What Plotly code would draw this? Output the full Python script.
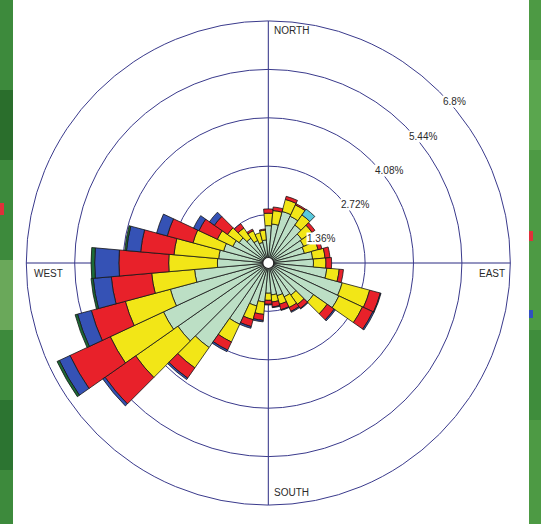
import plotly.graph_objects as go

# Wind directions (degrees, clockwise from north), 10-degree sectors
directions = list(range(0, 360, 10))

# Frequency (%) of each speed class per direction sector
calm_light = [1.05, 1.10, 1.50, 1.45, 1.30, 1.15, 1.10, 1.05, 1.25, 1.27,
              1.65, 2.15, 2.19, 1.55, 1.10, 1.05, 0.95, 0.90, 0.85, 1.10,
              1.25, 1.90, 2.90, 3.10, 3.25, 2.85, 2.08, 1.43, 1.40, 1.30,
              1.10, 1.00, 0.85, 0.70, 0.60, 0.65]
moderate = [0.35, 0.38, 0.35, 0.35, 0.35, 0.35, 0.30, 0.40, 0.35, 0.35,
            0.35, 0.80, 0.73, 0.47, 0.32, 0.33, 0.25, 0.20, 0.20, 0.35,
            0.40, 0.55, 0.70, 1.45, 1.65, 1.31, 1.21, 1.37, 1.26, 0.89,
            0.48, 0.40, 0.35, 0.30, 0.28, 0.28]
fresh = [0.12, 0.10, 0.09, 0.04, 0.00, 0.10, 0.08, 0.11, 0.14, 0.16,
         0.12, 0.31, 0.32, 0.24, 0.14, 0.12, 0.16, 0.14, 0.11, 0.17,
         0.20, 0.25, 0.35, 1.05, 1.25, 0.99, 1.14, 1.40, 0.94, 0.75,
         0.57, 0.45, 0.15, 0.05, 0.00, 0.03]
strong = [0.00, 0.00, 0.00, 0.00, 0.00, 0.00, 0.00, 0.00, 0.00, 0.00,
          0.00, 0.02, 0.04, 0.04, 0.02, 0.03, 0.02, 0.02, 0.02, 0.04,
          0.05, 0.05, 0.05, 0.08, 0.33, 0.40, 0.51, 0.68, 0.40, 0.31,
          0.17, 0.17, 0.00, 0.00, 0.00, 0.00]
gale = [0.00] * 24 + [0.07, 0.07, 0.06, 0.10, 0.05] + [0.00] * 7
storm = [0.0] * 4 + [0.20] + [0.0] * 31

classes = [
    ("calm_light", calm_light, "#bcdfc5"),
    ("moderate", moderate, "#f2e617"),
    ("fresh", fresh, "#e8212a"),
    ("strong", strong, "#3552b5"),
    ("gale", gale, "#1c6c36"),
    ("storm", storm, "#58c9dd"),
]

ring_values = [1.36, 2.72, 4.08, 5.44, 6.8]
ring_labels = ["1.36%", "2.72%", "4.08%", "5.44%", "6.8%"]
compass_labels = ["NORTH", "EAST", "SOUTH", "WEST"]

W, H = 541, 524
CX, CY, R = 268.3, 263.0, 242.0  # pixel geometry of the rose
NAVY = "#2b2b82"

fig = go.Figure()
for name, vals, color in classes:
    fig.add_trace(go.Barpolar(
        r=vals, theta=directions, name=name, width=10,
        marker=dict(color=color, line=dict(color="#161616", width=0.8)),
        hoverinfo="skip",
    ))


def px_to_paper(x, y):
    return x / W, 1 - y / H


x0, y1 = px_to_paper(CX - R, CY - R)
x1, y0 = px_to_paper(CX + R, CY + R)

annotations = []
# ring labels along the north-east diagonal, on white boxes
for val, lab in zip(ring_values, ring_labels):
    rp = val / ring_values[-1] * R
    px = CX + rp * 0.7071 + 3
    py = CY - rp * 0.7071 + 10
    ax, ay = px_to_paper(px, py)
    annotations.append(dict(x=ax, y=ay, xref="paper", yref="paper", text=lab,
                            showarrow=False, xanchor="left", yanchor="middle",
                            bgcolor="white", borderpad=0,
                            font=dict(family="Liberation Sans, Arial", size=10, color="#2a2a2a")))

compass_pos = {
    "NORTH": (CX + 4, CY - R + 9),
    "EAST": (CX + R - 33, CY + 10),
    "SOUTH": (CX + 4, CY + R - 13),
    "WEST": (CX - R + 6, CY + 10),
}
for lab in compass_labels:
    px, py = compass_pos[lab]
    ax, ay = px_to_paper(px, py)
    annotations.append(dict(x=ax, y=ay, xref="paper", yref="paper", text=lab,
                            showarrow=False, xanchor="left", yanchor="middle",
                            font=dict(family="Liberation Sans, Arial", size=10, color="#2a2a2a")))

shapes = []
# hub at the centre of the rose
hx0, hy1 = px_to_paper(CX - 5.5, CY - 5.5)
hx1, hy0 = px_to_paper(CX + 5.5, CY + 5.5)
shapes.append(dict(type="circle", xref="paper", yref="paper", x0=hx0, x1=hx1, y0=hy0, y1=hy1,
                   fillcolor="white", line=dict(color="#222222", width=1.2), layer="above"))

# green page border strips
for (xa, xb, col) in [(0, 13, "#3d8a3c"), (529, 541, "#4d9a44")]:
    shapes.append(dict(type="rect", xref="paper", yref="paper", x0=xa / W, x1=xb / W, y0=0, y1=1,
                       fillcolor=col, line=dict(width=0), layer="above"))
for (xa, xb, ya, yb, col) in [(0, 13, 90, 160, "#2a6e2c"), (0, 13, 260, 330, "#6aa85a"),
                              (0, 13, 400, 470, "#2c7431"), (529, 541, 60, 150, "#5aa64e"),
                              (529, 541, 330, 420, "#3f8d3c"),
                              (0, 4, 203, 215, "#e0303a"), (529, 533, 231, 241, "#e0303a"),
                              (529, 533, 310, 318, "#3050c0")]:
    shapes.append(dict(type="rect", xref="paper", yref="paper", x0=xa / W, x1=xb / W,
                       y0=1 - yb / H, y1=1 - ya / H, fillcolor=col, line=dict(width=0), layer="above"))

fig.update_layout(
    width=W, height=H,
    margin=dict(l=0, r=0, t=0, b=0),
    paper_bgcolor="white",
    showlegend=False,
    polar=dict(
        domain=dict(x=[x0, x1], y=[y0, y1]),
        bgcolor="white",
        barmode="stack",
        bargap=0,
        angularaxis=dict(rotation=90, direction="clockwise", tickvals=[0, 90, 180, 270],
                         showticklabels=False, ticks="", showgrid=True, gridcolor=NAVY,
                         gridwidth=1.4, showline=True, linecolor="#3a3a8c", linewidth=1),
        radialaxis=dict(range=[0, 6.8], tickvals=ring_values, showticklabels=False, ticks="",
                        showline=False, showgrid=True, gridcolor="#3a3a8c", gridwidth=1),
    ),
    annotations=annotations,
    shapes=shapes,
)

fig.write_html("out.html")
